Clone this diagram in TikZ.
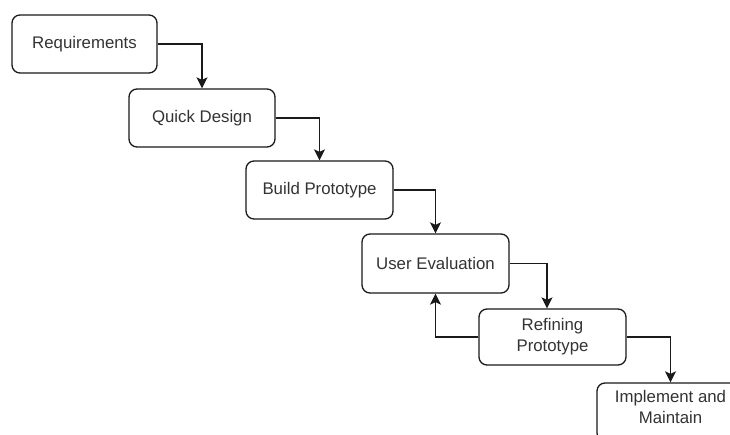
\documentclass[tikz,border=0pt]{standalone}
\usepackage{fontspec}
\setmainfont{Liberation Sans}
\usetikzlibrary{arrows.meta}
\definecolor{txt}{HTML}{333333}
\definecolor{ln}{HTML}{1A1A1A}
\begin{document}
\begin{tikzpicture}[x=1pt,y=-1pt,
  box/.style={draw=ln, line width=1.3pt, rounded corners=8pt, minimum width=146pt, minimum height=58pt,
    inner sep=0pt, align=center, text=txt, font=\fontsize{16.8}{21}\selectfont},
  arr/.style={draw=ln, line width=1.3pt, -{Stealth[length=11pt,width=11pt,inset=2.5pt]}}]
\clip (0,0) rectangle (730,435);
\useasboundingbox (0,0) rectangle (730,435);
\fill[white] (0,0) rectangle (730,435);
\node[box, minimum width=145pt] (A) at (84.5,44) {Requirements};
\node[box] (B) at (202,118) {Quick Design};
\node[box, minimum width=147pt] (C) at (319.5,190) {Build Prototype};
\node[box, minimum width=147pt, minimum height=59pt] (D) at (435.5,263.5) {User Evaluation};
\node[box, minimum width=147pt, minimum height=56pt] (E) at (552.5,337) {Refining\\Prototype};
\node[box, minimum width=147pt] (F) at (670.5,412) {};
\node[text=txt, font=\fontsize{16.8}{21}\selectfont, align=center] (Ft) at (670.5,406.5) {Implement and\\Maintain};
\draw[arr] (A.east) -| (B.north);
\draw[arr] (B.east) -| (C.north);
\draw[arr] (C.east) -| (D.north);
\draw[arr] (D.east) -| ([xshift=-5.5pt]E.north);
\draw[arr] (E.east) -| (F.north);
\draw[arr] (E.west) -| (D.south);
\end{tikzpicture}
\end{document}
